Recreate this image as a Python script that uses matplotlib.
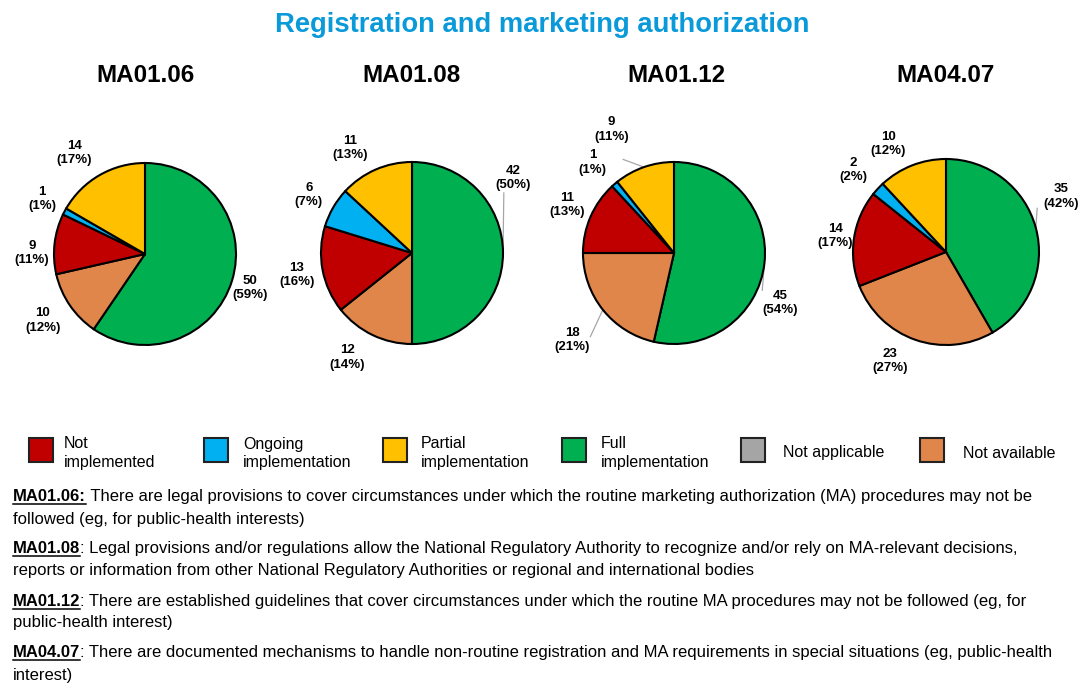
import numpy as np
import matplotlib
matplotlib.use("Agg")
import matplotlib.pyplot as plt
from matplotlib.patches import Rectangle
from matplotlib.lines import Line2D

plt.rcParams['font.family'] = ['Liberation Sans', 'DejaVu Sans']

# ---------------- data ----------------
title = "Registration and marketing authorization"
indicators = ["MA01.06", "MA01.08", "MA01.12", "MA04.07"]
# wedge order (clockwise from 12 o'clock): Full, Not available, Not implemented, Ongoing, Partial
wedge_categories = ["Full implementation", "Not available", "Not implemented",
                    "Ongoing implementation", "Partial implementation"]
counts_ma0106 = [50, 10, 9, 1, 14]
counts_ma0108 = [42, 12, 13, 6, 11]
counts_ma0112 = [45, 18, 11, 1, 9]
counts_ma0407 = [35, 23, 14, 2, 10]
pct_ma0106 = [59, 12, 11, 1, 17]
pct_ma0108 = [50, 14, 16, 7, 13]
pct_ma0112 = [54, 21, 13, 1, 11]
pct_ma0407 = [42, 27, 17, 2, 12]

legend_labels = ["Not\nimplemented", "Ongoing\nimplementation", "Partial\nimplementation",
                 "Full\nimplementation", "Not applicable", "Not available"]

footnote_keys = ["MA01.06:", "MA01.08", "MA01.12", "MA04.07"]
footnote_lines = [
    [" There are legal provisions to cover circumstances under which the routine marketing authorization (MA) procedures may not be",
     "followed (eg, for public-health interests)"],
    [": Legal provisions and/or regulations allow the National Regulatory Authority to recognize and/or rely on MA-relevant decisions,",
     "reports or information from other National Regulatory Authorities or regional and international bodies"],
    [": There are established guidelines that cover circumstances under which the routine MA procedures may not be followed (eg, for",
     "public-health interest)"],
    [": There are documented mechanisms to handle non-routine registration and MA requirements in special situations (eg, public-health",
     "interest)"],
]

# ---------------- style ----------------
colors = {
    "Not implemented": "#C00000",
    "Ongoing implementation": "#00B0F0",
    "Partial implementation": "#FFC000",
    "Full implementation": "#00B050",
    "Not applicable": "#A5A5A5",
    "Not available": "#E0864A",
}
legend_keys = ["Not implemented", "Ongoing implementation", "Partial implementation",
               "Full implementation", "Not applicable", "Not available"]

W, H = 1084, 690
fig = plt.figure(figsize=(W / 100, H / 100), dpi=100)

def fx(px):
    return px / W

def fy(py):
    return 1 - py / H

fig.text(fx(542), fy(25), title, ha='center', va='center', fontsize=19.7,
         fontweight='bold', color='#0A9AD9')

pie_centers = [(145, 254), (412, 253), (674, 253), (946, 252)]
pie_radii = [91, 91, 91, 93]
title_x = [146, 412, 676, 946]

# label placement (delta angle from wedge mid-angle, radial distance)
label_pos = [
    [(-0.8, 1.21), (-1.3, 1.34), (5.9, 1.24), (-0.2, 1.28), (5.0, 1.35)],
    [(36.6, 1.38), (-6.1, 1.35), (0.1, 1.29), (0.6, 1.30), (7.0, 1.34)],
    [(-18.9, 1.29), (1.9, 1.47), (-0.6, 1.29), (1.3, 1.34), (7.5, 1.52)],
    [(10.8, 1.37), (-7.9, 1.32), (0.4, 1.20), (1.5, 1.33), (6.6, 1.32)],
]
# leader lines: (chart, wedge) -> end point (abs angle, dist)
leaders = {
    (1, 0): (33.2, 1.206),
    (2, 0): (-22.9, 1.053),
    (2, 1): (-135.0, 1.30),
    (2, 4): (118.5, 1.17),
    (3, 0): (25.6, 1.087),
}

all_counts = [counts_ma0106, counts_ma0108, counts_ma0112, counts_ma0407]
all_pcts = [pct_ma0106, pct_ma0108, pct_ma0112, pct_ma0407]
span = 1.7

for i, name in enumerate(indicators):
    cx, cy = pie_centers[i]
    r = pie_radii[i]
    ax = fig.add_axes([fx(cx - span * r), fy(cy + span * r),
                       2 * span * r / W, 2 * span * r / H])
    wedges, _ = ax.pie(all_counts[i], colors=[colors[c] for c in wedge_categories],
                       startangle=90, counterclock=False, radius=1.0,
                       wedgeprops=dict(edgecolor='black', linewidth=1.5))
    ax.set_xlim(-span, span)
    ax.set_ylim(-span, span)
    ax.set_aspect('equal')
    ax.axis('off')
    for j, w in enumerate(wedges):
        mid = (w.theta1 + w.theta2) / 2.0
        da, dist = label_pos[i][j]
        ang = np.deg2rad(mid + da)
        ax.text(dist * np.cos(ang), dist * np.sin(ang),
                f"{all_counts[i][j]}\n({all_pcts[i][j]}%)",
                ha='center', va='center', fontsize=9.5, fontweight='bold',
                linespacing=1.25, clip_on=False)
        if (i, j) in leaders:
            ea, ed = leaders[(i, j)]
            m = np.deg2rad(mid)
            e = np.deg2rad(ea)
            ax.add_line(Line2D([np.cos(m), ed * np.cos(e)], [np.sin(m), ed * np.sin(e)],
                               color='#A6A6A6', lw=0.9, clip_on=False, zorder=0.5))
    fig.text(fx(title_x[i]), fy(75), name, ha='center', va='center',
             fontsize=17.5, fontweight='bold')

# legend
sq_left = [29, 204, 383, 562, 741, 920]
txt_left = [64, 243, 421, 601, 783, 963]
for k, key in enumerate(legend_keys):
    fig.patches.append(Rectangle((fx(sq_left[k]), fy(462)), 24 / W, 24 / H,
                                 transform=fig.transFigure, facecolor=colors[key],
                                 edgecolor='#222222', linewidth=1.5))
    fig.text(fx(txt_left[k]), fy(453), legend_labels[k], ha='left', va='center',
             fontsize=11.5, linespacing=1.25)

# footnotes
fig.canvas.draw()
renderer = fig.canvas.get_renderer()
line1_y = [501, 553, 606, 657]
line2_y = [524, 575, 627, 680]
x0 = 13
fs = 12.0
for k in range(4):
    t = fig.text(fx(x0), fy(line1_y[k]), footnote_keys[k], ha='left', va='baseline',
                 fontsize=fs, fontweight='bold')
    bb = t.get_window_extent(renderer)
    ypix_base = fy(line1_y[k]) * H
    fig.add_artist(Line2D([bb.x0 / W, bb.x1 / W], [(ypix_base - 2.5) / H, (ypix_base - 2.5) / H],
                          transform=fig.transFigure, color='black', lw=1.1))
    fig.text(bb.x1 / W, fy(line1_y[k]), footnote_lines[k][0], ha='left', va='baseline',
             fontsize=fs)
    fig.text(fx(x0), fy(line2_y[k]), footnote_lines[k][1], ha='left', va='baseline',
             fontsize=fs)

fig.savefig("out.png", dpi=100)
